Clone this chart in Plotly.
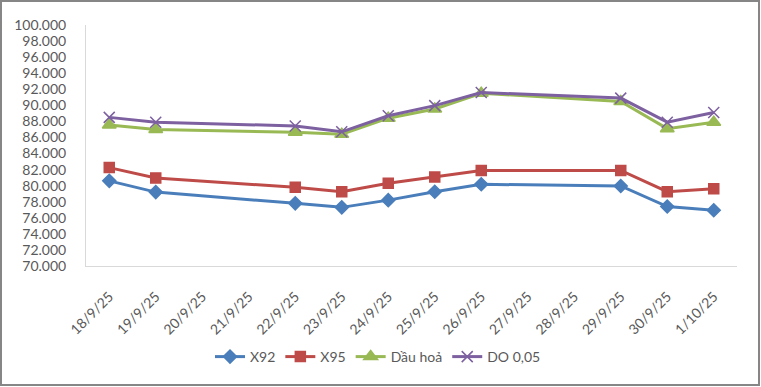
import plotly.graph_objects as go

dates = ["18/9/25", "19/9/25", "20/9/25", "21/9/25", "22/9/25", "23/9/25", "24/9/25",
         "25/9/25", "26/9/25", "27/9/25", "28/9/25", "29/9/25", "30/9/25", "1/10/25"]
x92 = [80.6, 79.2, None, None, 77.8, 77.3, 78.2, 79.25, 80.17, None, None, 79.96, 77.4, 76.94]
x95 = [82.25, 80.96, None, None, 79.8, 79.25, 80.3, 81.08, 81.9, None, None, 81.9, 79.25, 79.63]
dau_hoa = [87.56, 87.0, None, None, 86.65, 86.4, 88.4, 89.55, 91.5, None, None, 90.47, 87.1, 87.9]
do005 = [88.5, 87.9, None, None, 87.43, 86.7, 88.7, 89.96, 91.6, None, None, 90.9, 87.9, 89.1]
y_ticks = [70, 72, 74, 76, 78, 80, 82, 84, 86, 88, 90, 92, 94, 96, 98, 100]
y_tick_labels = ["70.000", "72.000", "74.000", "76.000", "78.000", "80.000", "82.000", "84.000",
                 "86.000", "88.000", "90.000", "92.000", "94.000", "96.000", "98.000", "100.000"]

series = [
    ("X92", x92, "#4a7ebb", "diamond", 10),
    ("X95", x95, "#be4b48", "square", 10),
    ("Dầu hoả", dau_hoa, "#98b954", "triangle-up", 12),
    ("DO 0,05", do005, "#7d60a0", "x-thin-open", 11),
]

fig = go.Figure()
for name, vals, color, sym, size in series:
    fig.add_trace(go.Scatter(
        x=dates, y=vals, name=name, mode="lines+markers", connectgaps=True,
        line=dict(color=color, width=3),
        marker=dict(symbol=sym, size=size, color=color, line=dict(color=color, width=1.5)),
    ))

W, H = 761, 387
L, R, T, B = 86, 24, 25, 121
pw, ph = W - L - R, H - T - B

fig.update_layout(
    width=W, height=H,
    margin=dict(l=L, r=R, t=T, b=B),
    paper_bgcolor="white", plot_bgcolor="white",
    font=dict(family="Lato, Carlito, Calibri, sans-serif", size=14, color="#595959"),
    showlegend=True,
    legend=dict(orientation="h", x=(378 - L) / pw, xanchor="center",
                y=-(357 - (H - B)) / ph, yanchor="middle",
                font=dict(size=14, color="#595959"), itemwidth=30, traceorder="normal"),
    xaxis=dict(type="category", categoryorder="array", categoryarray=dates,
               tickangle=-45, showgrid=False, showline=True, linecolor="#d9d9d9", linewidth=1,
               ticks="", range=[-0.5, len(dates) - 0.5], tickfont=dict(size=14),
               automargin=False, ticklabelstandoff=16),
    yaxis=dict(range=[70, 100], tickvals=y_ticks, ticktext=y_tick_labels, showgrid=False,
               showline=True, linecolor="#d9d9d9", linewidth=1, ticks="", zeroline=False,
               tickfont=dict(size=14), automargin=False, ticklabelstandoff=16),
    shapes=[dict(type="rect", xref="paper", yref="paper",
                 x0=(1 - L) / pw, x1=(W - 2 - L) / pw,
                 y0=(H - B - (H - 2)) / ph, y1=(H - B - 1) / ph,
                 line=dict(color="#868686", width=2), fillcolor="rgba(0,0,0,0)", layer="below")],
)

fig.write_html("out.html", config={"displayModeBar": False},
               post_script="document.body.style.margin='0';document.body.style.padding='0';"
                           "document.body.style.overflow='hidden';")
